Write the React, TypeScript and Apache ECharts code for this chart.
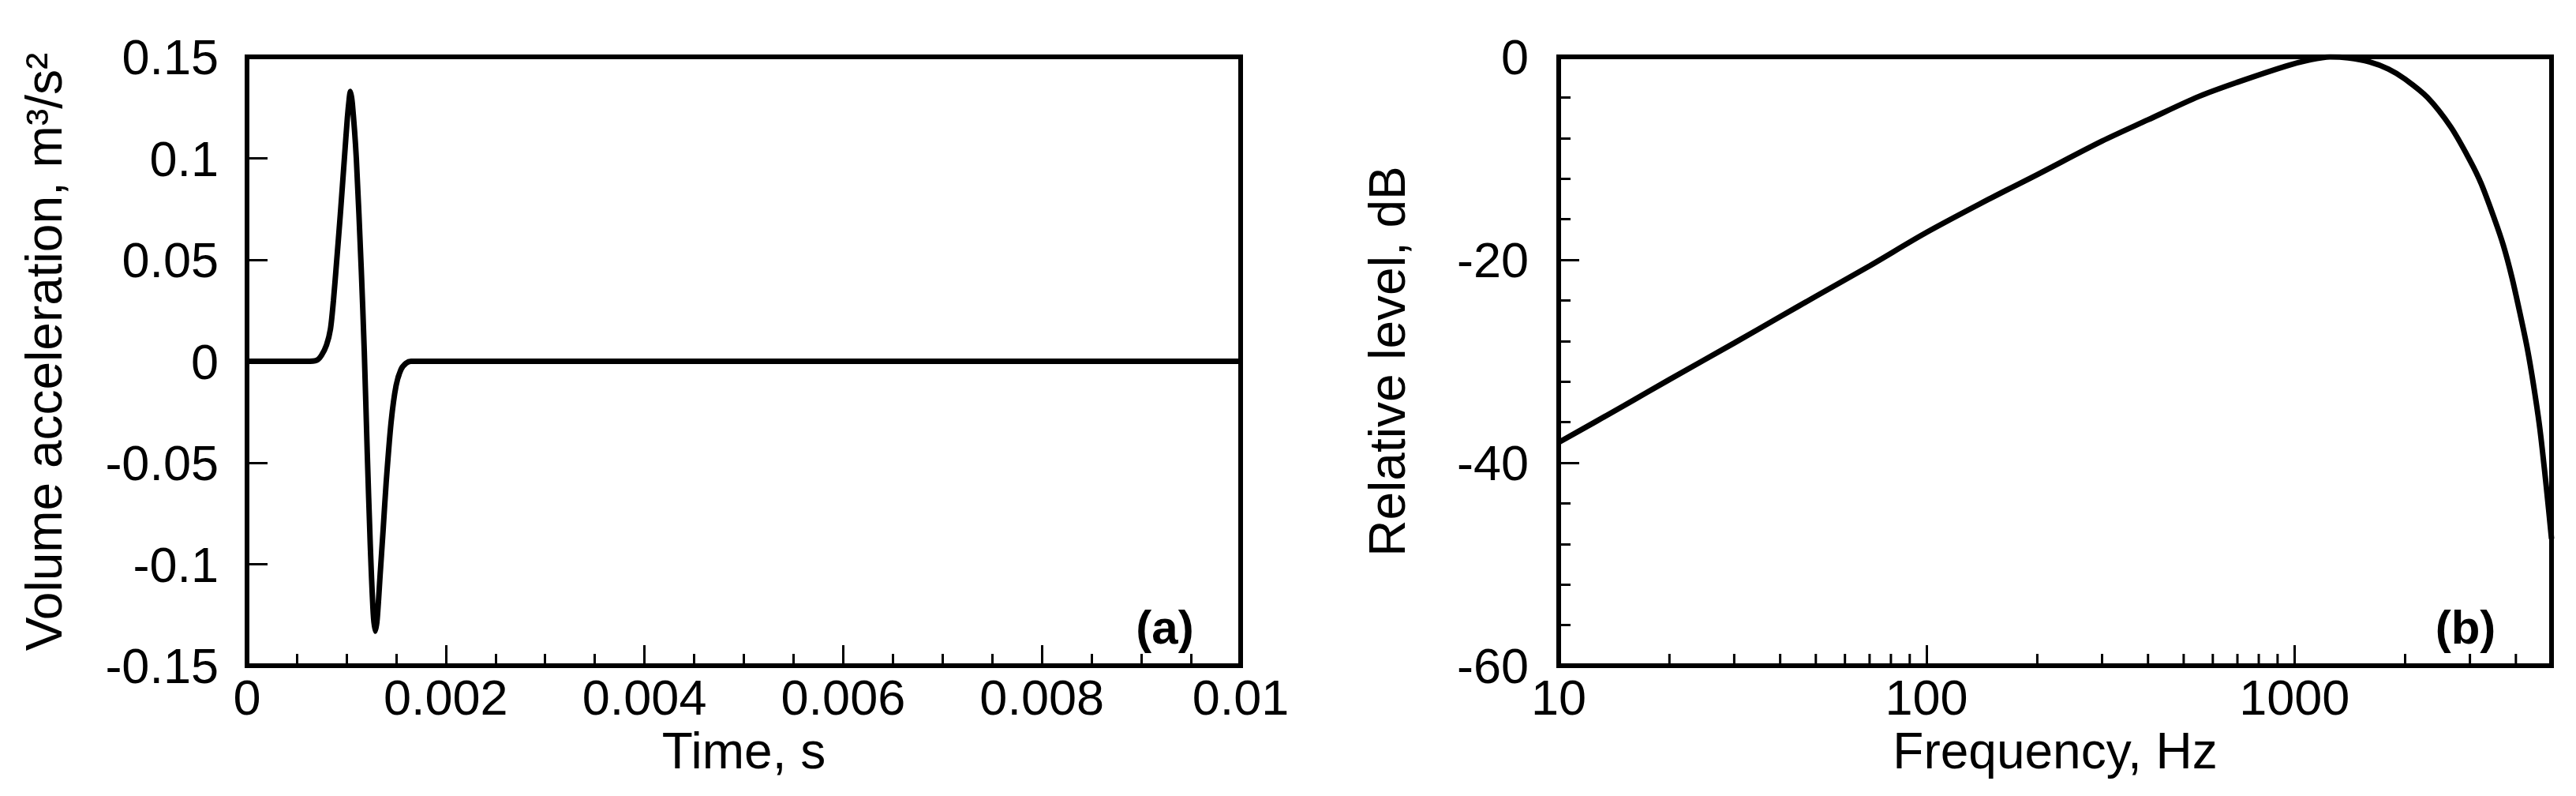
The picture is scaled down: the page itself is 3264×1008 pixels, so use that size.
import React, { useEffect, useRef } from "react";
import * as echarts from "echarts";

// ---------- data: panel (a) ----------
const timeS = [
  0, 0.0006, 0.0007, 0.00075, 0.0008, 0.00084, 0.00087, 0.0009, 0.00094, 0.00098,
  0.00101, 0.00103, 0.00104, 0.00106, 0.0011, 0.00115, 0.00118, 0.00121, 0.00124,
  0.00127, 0.00129, 0.00131, 0.00134, 0.00137, 0.0014, 0.00145, 0.0015, 0.00155,
  0.0016, 0.00165, 0.01,
];
const accel = [
  0, 0, 0.0005, 0.003, 0.008, 0.016, 0.03, 0.048, 0.073, 0.1,
  0.12, 0.13, 0.133, 0.127, 0.1, 0.045, 0.005, -0.045, -0.09,
  -0.124, -0.133, -0.127, -0.105, -0.083, -0.06, -0.03, -0.012, -0.004,
  -0.001, 0, 0,
];

// ---------- data: panel (b) ----------
const freqHz = [
  10, 15, 20, 30, 40, 50, 70, 100, 150, 200, 300, 400, 550, 700, 950, 1100, 1250,
  1400, 1600, 1800, 2000, 2300, 2660, 3000, 3220, 3500, 3700, 3900, 4100, 4300,
  4470, 4650, 4840, 5000,
];
const levelDb = [
  -38, -34.4, -31.8, -28.2, -25.6, -23.6, -20.6, -17.3, -13.9, -11.6, -8.3, -6.2,
  -3.9, -2.5, -0.9, -0.3, 0, -0.1, -0.5, -1.2, -2.2, -4.0, -6.9, -10.2, -12.5,
  -16.0, -18.6, -21.7, -25.2, -28.8, -32.4, -36.7, -42.4, -47.5,
];
const freqMinorTicks = [
  20, 30, 40, 50, 60, 70, 80, 90, 200, 300, 400, 500, 600, 700, 800, 900, 2000,
  3000, 4000,
];

// ---------- axis settings / texts ----------
const timeRange = [0, 0.01];
const timeStep = 0.002;
const accelRange = [-0.15, 0.15];
const accelStep = 0.05;
const freqRange = [10, 5000];
const levelRange = [-60, 0];
const levelStep = 20;

const xNameA = "Time, s";
const yNameA = "Volume acceleration, m³/s²";
const xNameB = "Frequency, Hz";
const yNameB = "Relative level, dB";
const panelA = "(a)";
const panelB = "(b)";

const FONT = '"Liberation Sans", Arial, sans-serif';
const BLACK = "#000";

const fmt = (v: number) => String(parseFloat(Number(v).toFixed(6)));

export default function App() {
  const ref = useRef<HTMLDivElement>(null);

  useEffect(() => {
    if (!ref.current) return;
    const chart = echarts.init(ref.current, undefined, { renderer: "svg" });

    const axisLine = { onZero: false, lineStyle: { color: BLACK, width: 6 } };
    const tick = { inside: true, length: 26, lineStyle: { color: BLACK, width: 3 } };
    const nameStyle = { fontSize: 64, color: BLACK, fontFamily: FONT };

    const option: any = {
      animation: false,
      backgroundColor: "#fff",
      textStyle: { fontFamily: FONT, color: BLACK },
      grid: [
        {
          left: 313, top: 72, width: 1259, height: 771,
          show: true, borderColor: BLACK, borderWidth: 6, backgroundColor: "transparent",
        },
        {
          left: 1975, top: 72, width: 1258, height: 771,
          show: true, borderColor: BLACK, borderWidth: 6, backgroundColor: "transparent",
        },
      ],
      xAxis: [
        {
          gridIndex: 0, type: "value",
          min: timeRange[0], max: timeRange[1], interval: timeStep,
          name: xNameA, nameLocation: "middle", nameGap: 73, nameTextStyle: nameStyle,
          axisLine, axisTick: tick,
          minorTick: { show: true, splitNumber: 4, length: 15, lineStyle: { color: BLACK, width: 3 } },
          axisLabel: { margin: 8, fontSize: 63, color: BLACK, fontFamily: FONT, formatter: fmt },
          splitLine: { show: false },
          minorSplitLine: { show: false },
        },
        {
          gridIndex: 1, type: "log", logBase: 10,
          min: freqRange[0], max: freqRange[1],
          name: xNameB, nameLocation: "middle", nameGap: 73, nameTextStyle: nameStyle,
          axisLine, axisTick: tick,
          axisLabel: {
            margin: 8, fontSize: 63, color: BLACK, fontFamily: FONT, showMaxLabel: false,
            formatter: (v: number) => String(Math.round(v)),
          },
          splitLine: { show: false },
        },
      ],
      yAxis: [
        {
          gridIndex: 0, type: "value",
          min: accelRange[0], max: accelRange[1], interval: accelStep,
          name: yNameA, nameLocation: "middle", nameGap: 225,
          nameTextStyle: { ...nameStyle, padding: [0, 0, 0, 24] },
          axisLine, axisTick: tick,
          axisLabel: {
            margin: 36, fontSize: 63, color: BLACK, fontFamily: FONT, formatter: fmt,
            padding: [0, 0, 20, 0],
          },
          splitLine: { show: false },
        },
        {
          gridIndex: 1, type: "value",
          min: levelRange[0], max: levelRange[1], interval: levelStep,
          name: yNameB, nameLocation: "middle", nameGap: 185, nameTextStyle: nameStyle,
          axisLine, axisTick: tick,
          minorTick: { show: true, splitNumber: 5, length: 15, lineStyle: { color: BLACK, width: 3 } },
          axisLabel: {
            margin: 38, fontSize: 63, color: BLACK, fontFamily: FONT, formatter: fmt,
            padding: [0, 0, 14, 0],
          },
          splitLine: { show: false },
          minorSplitLine: { show: false },
        },
      ],
      series: [
        {
          type: "line", xAxisIndex: 0, yAxisIndex: 0,
          data: timeS.map((t, i) => [t, accel[i]]),
          showSymbol: false, symbol: "none", smooth: 0.25,
          lineStyle: { color: BLACK, width: 7 },
        },
        {
          type: "line", xAxisIndex: 1, yAxisIndex: 1,
          data: freqHz.map((f, i) => [f, levelDb[i]]),
          showSymbol: false, symbol: "none", smooth: 0.3,
          lineStyle: { color: BLACK, width: 7 },
        },
        {
          type: "custom", xAxisIndex: 1, yAxisIndex: 1, silent: true, clip: false,
          data: freqMinorTicks.map((f) => [f, levelRange[0]]),
          renderItem: (_p: any, api: any) => {
            const p = api.coord([api.value(0), api.value(1)]);
            return {
              type: "line",
              shape: { x1: p[0], y1: p[1], x2: p[0], y2: p[1] - 15 },
              style: { stroke: BLACK, lineWidth: 3 },
            };
          },
        },
      ],
      graphic: [
        {
          type: "text", x: 1476, y: 794,
          style: {
            text: panelA, font: `bold 60px ${FONT}`, fill: BLACK,
            textAlign: "center", textVerticalAlign: "middle",
          },
        },
        {
          type: "text", x: 3124, y: 794,
          style: {
            text: panelB, font: `bold 60px ${FONT}`, fill: BLACK,
            textAlign: "center", textVerticalAlign: "middle",
          },
        },
      ],
    };

    chart.setOption(option);
    return () => chart.dispose();
  }, []);

  return (
    <div
      ref={ref}
      style={{ position: "fixed", left: 0, top: 0, width: "3264px", height: "1008px", background: "#fff" }}
    />
  );
}
